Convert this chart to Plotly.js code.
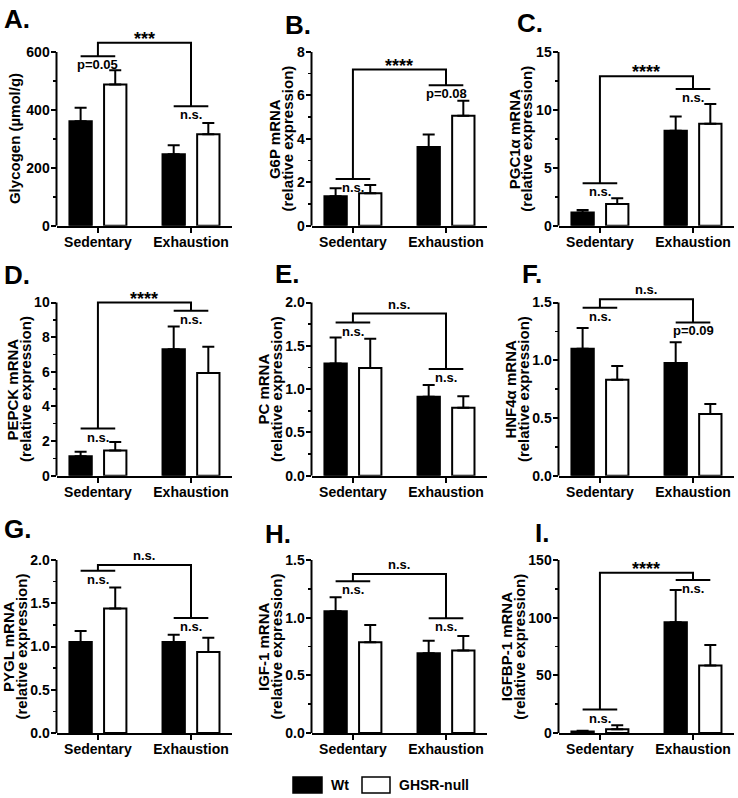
<!DOCTYPE html>
<html><head><meta charset="utf-8">
<script src="https://cdn.plot.ly/plotly-3.0.1.min.js"></script>
<style>html,body{margin:0;padding:0;background:#fff}#chart{width:738px;height:798px}</style>
</head><body><div id="chart"></div>
<script>
// ---------- DATA ----------
const categories = ['Sedentary', 'Exhaustion'];
const seriesNames = ['Wt', 'GHSR-null'];

const panelLetters = ['A.', 'B.', 'C.', 'D.', 'E.', 'F.', 'G.', 'H.', 'I.'];
const yTitleLine1 = ['Glycogen (µmol/g)', 'G6P mRNA', 'PGC1α mRNA', 'PEPCK mRNA', 'PC mRNA', 'HNF4α mRNA', 'PYGL mRNA', 'IGF-1 mRNA', 'IGFBP-1 mRNA'];
const yTitleLine2 = ['', '(relative expression)', '(relative expression)', '(relative expression)', '(relative expression)', '(relative expression)', '(relative expression)', '(relative expression)', '(relative expression)'];

// means and SEM (Wt = black, GHSR-null = white)
const glycogenWt = [361, 247];      const glycogenWtErr = [46, 31];
const glycogenKo = [488, 316];      const glycogenKoErr = [49, 39];
const g6pWt = [1.36, 3.63];         const g6pWtErr = [0.36, 0.57];
const g6pKo = [1.49, 5.06];         const g6pKoErr = [0.38, 0.69];
const pgc1aWt = [1.15, 8.19];       const pgc1aWtErr = [0.21, 1.24];
const pgc1aKo = [1.87, 8.8];        const pgc1aKoErr = [0.5, 1.7];
const pepckWt = [1.12, 7.3];        const pepckWtErr = [0.26, 1.31];
const pepckKo = [1.45, 5.93];       const pepckKoErr = [0.5, 1.52];
const pcWt = [1.295, 0.913];        const pcWtErr = [0.30, 0.135];
const pcKo = [1.245, 0.786];        const pcKoErr = [0.335, 0.131];
const hnf4aWt = [1.10, 0.975];      const hnf4aWtErr = [0.18, 0.18];
const hnf4aKo = [0.83, 0.534];      const hnf4aKoErr = [0.12, 0.086];
const pyglWt = [1.052, 1.052];      const pyglWtErr = [0.128, 0.085];
const pyglKo = [1.439, 0.936];      const pyglKoErr = [0.244, 0.164];
const igf1Wt = [1.056, 0.692];      const igf1WtErr = [0.121, 0.108];
const igf1Ko = [0.787, 0.715];      const igf1KoErr = [0.15, 0.127];
const igfbp1Wt = [1.2, 96];         const igfbp1WtErr = [0.8, 28];
const igfbp1Ko = [3.2, 58.5];       const igfbp1KoErr = [3.5, 17.7];

// y-axis tick labels
const yTickMax  = [600, 8, 15, 10, 2.0, 1.5, 2.0, 1.5, 150];
const yTickStep = [200, 2, 5, 2, 0.5, 0.5, 0.5, 0.5, 50];
const yMinorStep = [100, 1, 2.5, 1, 0.25, 0.25, 0.25, 0.25, 25];
const yTickFormat = ['', '', '', '', '.1f', '.1f', '.1f', '.1f', ''];

// significance brackets (heights in data units) and labels
const bracketTop = [632, 7.19, 12.9, 10.0, 1.873, 1.529, 1.942, 1.379, 139];
const bracketSed = [585, 2.15, 3.66, 2.72, 1.769, 1.454, 1.876, 1.315, 20.3];
const bracketExh = [413, 6.47, 11.8, 9.52, 1.233, 1.327, 1.33, 0.995, 132.6];
const labelMain = ['***', '****', '****', '****', 'n.s.', 'n.s.', 'n.s.', 'n.s.', '****'];
const labelSed = ['p=0.05', 'n.s.', 'n.s.', 'n.s.', 'n.s.', 'n.s.', 'n.s.', 'n.s.', 'n.s.'];
const labelExh = ['n.s.', 'p=0.08', 'n.s.', 'n.s.', 'n.s.', 'p=0.09', 'n.s.', 'n.s.', 'n.s.'];

const wtSeries = [glycogenWt, g6pWt, pgc1aWt, pepckWt, pcWt, hnf4aWt, pyglWt, igf1Wt, igfbp1Wt];
const wtErrSeries = [glycogenWtErr, g6pWtErr, pgc1aWtErr, pepckWtErr, pcWtErr, hnf4aWtErr, pyglWtErr, igf1WtErr, igfbp1WtErr];
const koSeries = [glycogenKo, g6pKo, pgc1aKo, pepckKo, pcKo, hnf4aKo, pyglKo, igf1Ko, igfbp1Ko];
const koErrSeries = [glycogenKoErr, g6pKoErr, pgc1aKoErr, pepckKoErr, pcKoErr, hnf4aKoErr, pyglKoErr, igf1KoErr, igfbp1KoErr];

// ---------- LAYOUT / STYLE ----------
const W = 738, H = 798;
const FONT = 'Liberation Sans, Arial, Helvetica, sans-serif';
const colAxisX = [56.5, 311.5, 558.5];
const plotW = 175;
const rowZeroY = [225.7, 475.7, 733];
const rowTopTickY = [52, 302.5, 560];
const headroom = 44;
const xRange = [-0.445, 1.435];
const BAR_W = 0.24, OFF_WT = -0.306, OFF_KO = 0.066;
const cWt = OFF_WT + BAR_W / 2, cKo = OFF_KO + BAR_W / 2;

const titleX1 = [15.2, 275.2, 514.4, 12.4, 263.5, 510.5, 8.5, 263.5, 506.7];
const titleX2 = [0, 287.7, 526.9, 24.9, 276, 523, 21, 276, 519.2];
const letterPos = [[2, 19], [283, 25], [515, 23], [2, 275], [273, 274], [520, 274], [2, 529], [263, 534], [533, 533]];

const px = x => x / W, py = y => 1 - y / H;
const range = (a, b, s) => { const o = []; for (let v = a; v <= b + 1e-9; v += s) o.push(+v.toFixed(4)); return o; };

const data = [], shapes = [], annotations = [];
const layout = {
  width: W, height: H, margin: {l: 0, r: 0, t: 0, b: 0},
  paper_bgcolor: '#fff', plot_bgcolor: 'rgba(0,0,0,0)',
  barmode: 'group', showlegend: false,
  font: {family: FONT, color: '#000', size: 14, weight: 'bold'}
};
const boldFont = (s) => ({family: FONT, size: s, color: '#000', weight: 'bold'});

for (let i = 0; i < 9; i++) {
  const c = i % 3, r = Math.floor(i / 3), n = i + 1;
  const sfx = n === 1 ? '' : String(n);
  const xa = 'x' + sfx, ya = 'y' + sfx;
  const axisX = colAxisX[c], zeroY = rowZeroY[r], topY = rowTopTickY[r];
  const extTop = topY - headroom;
  const yMax = yTickMax[i] * (zeroY - extTop) / (zeroY - topY);
  const majors = range(0, yTickMax[i], yTickStep[i]);
  const minors = range(0, yTickMax[i], yMinorStep[i]).filter(v => !majors.some(m => Math.abs(m - v) < 1e-6));

  layout['xaxis' + sfx] = {
    domain: [px(axisX), px(axisX + plotW)], range: xRange, anchor: ya, type: 'category',
    showline: true, linewidth: 2, linecolor: '#000', ticks: 'outside', ticklen: 5, tickwidth: 2, tickcolor: '#000',
    ticklabelstandoff: -3,
    tickfont: boldFont(14), showgrid: false, zeroline: false, fixedrange: true
  };
  layout['yaxis' + sfx] = {
    domain: [py(zeroY), py(extTop)], range: [0, yMax], anchor: xa,
    showline: false, ticks: 'outside', ticklen: 5, tickwidth: 2, tickcolor: '#000',
    ticklabelstandoff: -2,
    tickmode: 'array', tickvals: majors, tickformat: yTickFormat[i],
    minor: {tickmode: 'array', tickvals: minors, ticks: 'outside', ticklen: 3, tickwidth: 1.5, tickcolor: '#000', showgrid: false},
    tickfont: boldFont(14), showgrid: false, zeroline: false, fixedrange: true
  };

  data.push({
    type: 'bar', name: seriesNames[0], x: categories, y: wtSeries[i], xaxis: xa, yaxis: ya,
    width: BAR_W, offset: OFF_WT, marker: {color: '#000', line: {color: '#000', width: 2}},
    error_y: {type: 'data', symmetric: false, array: wtErrSeries[i], arrayminus: [0, 0], color: '#000', thickness: 2, width: 6},
    hoverinfo: 'skip'
  });
  data.push({
    type: 'bar', name: seriesNames[1], x: categories, y: koSeries[i], xaxis: xa, yaxis: ya,
    width: BAR_W, offset: OFF_KO, marker: {color: '#fff', line: {color: '#000', width: 2}},
    error_y: {type: 'data', symmetric: false, array: koErrSeries[i], arrayminus: [0, 0], color: '#000', thickness: 2, width: 6},
    hoverinfo: 'skip'
  });

  // y axis line (only up to the top tick)
  shapes.push({type: 'line', xref: xa + ' domain', yref: ya, x0: 0, x1: 0, y0: 0, y1: yTickMax[i], line: {color: '#000', width: 2}});

  // brackets
  const ln = {color: '#000', width: 2};
  const top = bracketTop[i], sed = bracketSed[i], exh = bracketExh[i];
  shapes.push({type: 'line', xref: xa, yref: ya, x0: cWt, x1: cKo, y0: sed, y1: sed, line: ln});
  shapes.push({type: 'line', xref: xa, yref: ya, x0: 1 + cWt, x1: 1 + cKo, y0: exh, y1: exh, line: ln});
  shapes.push({type: 'path', xref: xa, yref: ya, path: `M 0,${sed} L 0,${top} L 1,${top} L 1,${exh}`, line: ln});

  const isStar = labelMain[i].startsWith('*');
  annotations.push({xref: xa, yref: ya, x: 0.5, y: top, text: labelMain[i], showarrow: false,
    xanchor: 'center', yanchor: 'bottom', yshift: isStar ? -8 : 0, font: boldFont(isStar ? 18 : 13)});
  annotations.push({xref: xa, yref: ya, x: 0, y: sed, text: labelSed[i], showarrow: false,
    xanchor: 'center', yanchor: 'top', yshift: 1, font: boldFont(13)});
  annotations.push({xref: xa, yref: ya, x: 1, y: exh, text: labelExh[i], showarrow: false,
    xanchor: 'center', yanchor: 'top', yshift: 1, font: boldFont(13)});

  // y titles
  const midY = (zeroY + topY) / 2;
  annotations.push({xref: 'paper', yref: 'paper', x: px(titleX1[i]), y: py(midY), text: yTitleLine1[i], showarrow: false,
    textangle: -90, xanchor: 'center', yanchor: 'middle', font: boldFont(15)});
  if (yTitleLine2[i]) annotations.push({xref: 'paper', yref: 'paper', x: px(titleX2[i]), y: py(midY), text: yTitleLine2[i], showarrow: false,
    textangle: -90, xanchor: 'center', yanchor: 'middle', font: boldFont(15)});

  // panel letter
  annotations.push({xref: 'paper', yref: 'paper', x: px(letterPos[i][0]), y: py(letterPos[i][1]), text: panelLetters[i], showarrow: false,
    xanchor: 'left', yanchor: 'middle', font: boldFont(26)});
}

// legend (drawn manually)
shapes.push({type: 'rect', xref: 'paper', yref: 'paper', x0: px(293), x1: px(322), y0: py(793), y1: py(777), fillcolor: '#000', line: {color: '#000', width: 1.5}});
shapes.push({type: 'rect', xref: 'paper', yref: 'paper', x0: px(362), x1: px(390), y0: py(793), y1: py(777), fillcolor: '#fff', line: {color: '#000', width: 1.5}});
annotations.push({xref: 'paper', yref: 'paper', x: px(329), y: py(785), text: seriesNames[0], showarrow: false, xanchor: 'left', yanchor: 'middle', font: boldFont(14)});
annotations.push({xref: 'paper', yref: 'paper', x: px(397), y: py(785), text: seriesNames[1], showarrow: false, xanchor: 'left', yanchor: 'middle', font: boldFont(14)});

layout.shapes = shapes;
layout.annotations = annotations;
Plotly.newPlot('chart', data, layout, {displayModeBar: false, staticPlot: true});
</script></body></html>
